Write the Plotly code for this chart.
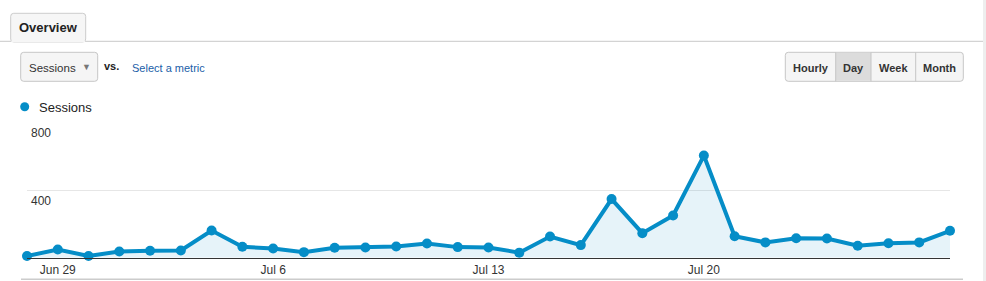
import plotly.graph_objects as go
import pandas as pd

# ---- data ----
dates = pd.date_range("2014-06-28", "2014-07-28", freq="D")
sessions = [10, 49, 10, 37, 41, 43, 162, 65, 55, 33,
            59, 61, 67, 85, 63, 61, 30, 126, 75, 349,
            146, 251, 608, 128, 91, 116, 114, 71, 86, 91, 160]
xtick_vals = ["2014-06-29", "2014-07-06", "2014-07-13", "2014-07-20"]
xtick_text = ["Jun 29", "Jul 6", "Jul 13", "Jul 20"]
ytick_vals = [400, 800]
ytick_text = ["400", "800"]
buttons = ["Hourly", "Day", "Week", "Month"]
button_edges = [785.3, 835.7, 871, 915.7, 963.3]
selected_button = "Day"

W, H = 986, 281
FONT = "Liberation Sans, Arial, sans-serif"
BLUE = "#058DC7"

def px(x):
    return x / W

def py(y):
    return 1 - y / H

def rrect(x0, y0, x1, y1, r=3):
    X0, X1 = px(x0), px(x1)
    Y0, Y1 = py(y0), py(y1)
    rx, ry = r / W, r / H
    return (f"M{X0+rx},{Y0} L{X1-rx},{Y0} Q{X1},{Y0} {X1},{Y0-ry} "
            f"L{X1},{Y1+ry} Q{X1},{Y1} {X1-rx},{Y1} L{X0+rx},{Y1} "
            f"Q{X0},{Y1} {X0},{Y1+ry} L{X0},{Y0-ry} Q{X0},{Y0} {X0+rx},{Y0} Z")

def label(text, x, y, size, color, xanchor="center", bold=False):
    return dict(text=f"<b>{text}</b>" if bold else text, x=px(x), y=py(y),
                xref="paper", yref="paper", xanchor=xanchor, yanchor="middle",
                showarrow=False, font=dict(family=FONT, size=size, color=color))

fig = go.Figure()
fig.add_trace(go.Scatter(
    x=dates, y=sessions, mode="lines+markers",
    line=dict(color=BLUE, width=4),
    marker=dict(color=BLUE, size=10),
    fill="tozeroy", fillcolor="rgba(5,141,199,0.1)",
    cliponaxis=False, hoverinfo="x+y", showlegend=False,
))

shapes = []
annotations = []

# top rule with tab
shapes.append(dict(type="line", xref="paper", yref="paper", x0=px(0), x1=px(983),
                   y0=py(41.3), y1=py(41.3), line=dict(color="#c8c8c8", width=1)))
shapes.append(dict(type="path", xref="paper", yref="paper",
                   path=rrect(10.7, 13.3, 85.7, 42, 3), fillcolor="#f6f6f6",
                   line=dict(color="#cccccc", width=1)))
shapes.append(dict(type="rect", xref="paper", yref="paper", x0=px(11.3), x1=px(85.1),
                   y0=py(40.5), y1=py(42.3), fillcolor="#f6f6f6", line=dict(width=0)))
annotations.append(label("Overview", 48.2, 27.5, 13, "#222", bold=True))

# right strip
shapes.append(dict(type="rect", xref="paper", yref="paper", x0=px(983), x1=px(986),
                   y0=0, y1=1, fillcolor="#eeeeee", line=dict(width=0)))

# metric dropdown
shapes.append(dict(type="path", xref="paper", yref="paper",
                   path=rrect(20.7, 52.3, 97.7, 81.3, 3), fillcolor="#f5f5f5",
                   line=dict(color="#c6c6c6", width=1)))
annotations.append(label("Sessions", 26.5, 67.5, 11.5, "#333", xanchor="left"))
annotations.append(label("▼", 86.5, 67, 9, "#777"))
annotations.append(label("vs.", 101.5, 66.5, 11, "#222", xanchor="left", bold=True))
annotations.append(label("Select a metric", 130, 67.5, 11, "#1a5ea8", xanchor="left"))

# period buttons
shapes.append(dict(type="path", xref="paper", yref="paper",
                   path=rrect(button_edges[0], 52.3, button_edges[-1], 81.3, 3), fillcolor="#f5f5f5",
                   line=dict(color="#c6c6c6", width=1)))
for i, b in enumerate(buttons):
    x0, x1 = button_edges[i], button_edges[i + 1]
    if b == selected_button:
        shapes.append(dict(type="rect", xref="paper", yref="paper", x0=px(x0), x1=px(x1),
                           y0=py(52.8), y1=py(80.8), fillcolor="#dcdcdc", line=dict(width=0)))
    if i > 0:
        shapes.append(dict(type="line", xref="paper", yref="paper", x0=px(x0), x1=px(x0),
                           y0=py(52.3), y1=py(81.3), line=dict(color="#c6c6c6", width=1)))
    annotations.append(label(b, (x0 + x1) / 2, 67.5, 11, "#333", bold=True))

# legend
shapes.append(dict(type="circle", xref="paper", yref="paper", x0=px(20.2), x1=px(29.2),
                   y0=py(102.2), y1=py(111.2), fillcolor=BLUE, line=dict(width=0)))
annotations.append(label("Sessions", 36.5, 107, 13, "#222", xanchor="left"))

# y tick labels (inside plot, below gridline)
for v, t in zip(ytick_vals, ytick_text):
    annotations.append(dict(text=t, x=px(29), y=v, xref="paper", yref="y", xanchor="left",
                            yanchor="top", yshift=-1, showarrow=False,
                            font=dict(family=FONT, size=12, color="#333")))

# bottom rule
shapes.append(dict(type="line", xref="paper", yref="paper", x0=px(21), x1=px(963),
                   y0=py(279.3), y1=py(279.3), line=dict(color="#cccccc", width=1.5)))

fig.update_layout(
    width=W, height=H, margin=dict(l=0, r=0, t=0, b=0),
    paper_bgcolor="white", plot_bgcolor="white",
    shapes=shapes, annotations=annotations, showlegend=False,
    font=dict(family=FONT, size=12, color="#333"),
    xaxis=dict(domain=[px(27), px(950)], range=[dates[0], dates[-1]],
               tickvals=xtick_vals, ticktext=xtick_text, ticks="", showgrid=False,
               showline=True, linecolor="#333", linewidth=1, zeroline=False,
               tickfont=dict(family=FONT, size=12, color="#333"), ticklabelstandoff=1),
    yaxis=dict(domain=[py(257.7), py(123.3)], range=[0, 800], tickvals=ytick_vals,
               showticklabels=False, showgrid=True, gridcolor="#e6e6e6", gridwidth=1,
               zeroline=False, showline=False, fixedrange=True),
)

fig.write_html("out.html")
